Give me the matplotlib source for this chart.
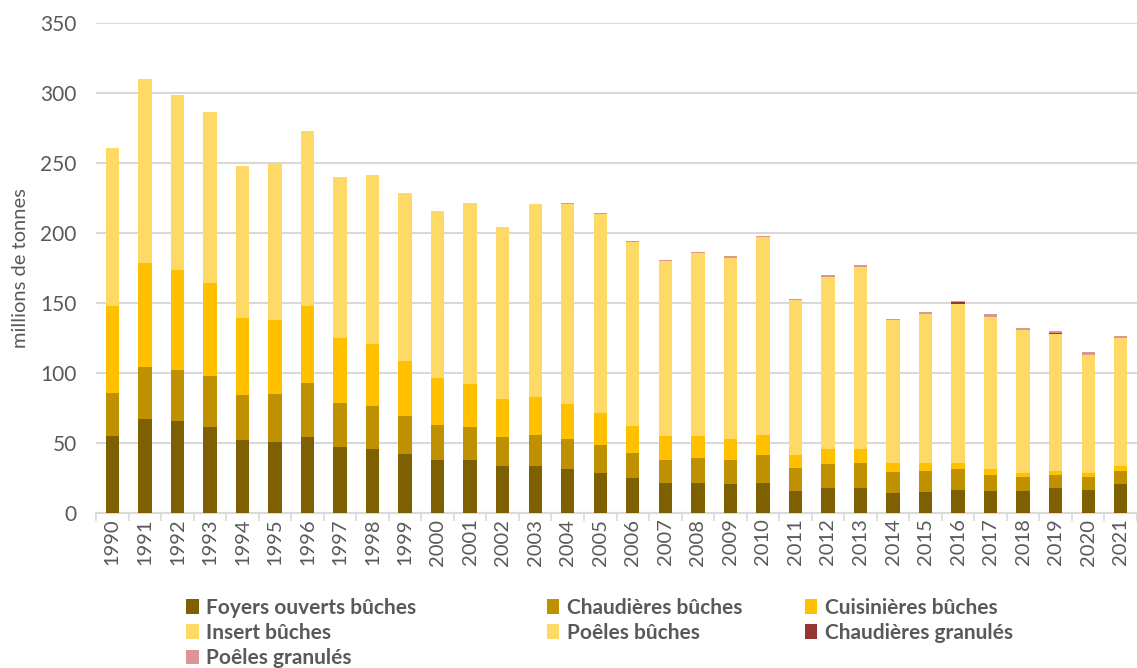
import numpy as np
import matplotlib
matplotlib.use("Agg")
import matplotlib.pyplot as plt
from matplotlib.patches import Patch

plt.rcParams['font.family'] = ['Lato', 'DejaVu Sans']

annees = [str(a) for a in range(1990, 2022)]

foyers = [55, 67, 65.5, 61.4, 52, 51, 54.3, 47.1, 45.7, 42.1, 38.1, 38.1, 33.6, 33.6, 31.7, 28.8,
          24.8, 21.4, 21.4, 20.7, 21.4, 16, 17.6, 17.6, 14.3, 15.2, 16.7, 16, 16, 17.6, 16.7, 20.7]
chaud_buches = [31, 37.5, 36.5, 36.6, 32.5, 34.2, 38.3, 31.7, 31, 27.2, 24.8, 23.3, 20.7, 22.1, 20.9, 19.8,
                18.1, 16.7, 17.7, 17.4, 20, 15.9, 17.6, 18.3, 15.2, 15, 14.5, 11.1, 9.5, 9.5, 8.8, 9.5]
cuisinieres = [62, 74.1, 71.6, 66, 55, 52.7, 55.4, 46.4, 43.8, 39, 33.5, 31, 27.1, 27.2, 25.5, 23.1,
               19.2, 16.9, 15.9, 14.5, 14.3, 9.8, 10.5, 9.8, 6.4, 5.7, 4.7, 4.1, 3.3, 3.1, 3.3, 3.4]
insert = [45, 52, 50, 49, 43, 45, 50, 46, 48, 48, 48, 52, 49, 55, 57, 57,
          53, 50, 52, 52, 57, 44, 49, 52, 41, 43, 45, 44, 41, 39, 34, 36]
poeles_buches = [68, 79.4, 75, 73.7, 65.1, 66.9, 75, 68.6, 72.7, 72, 71.3, 77, 74.1, 82.8, 85.6, 85,
                 78.4, 74.8, 78.4, 77.7, 84.3, 66.2, 74.1, 78.1, 60.7, 63.5, 68.5, 65, 60.6, 59, 50.1, 55.1]
chaud_granules = [0, 0, 0, 0, 0, 0, 0, 0, 0, 0, 0, 0, 0, 0, 0.02, 0.02,
                  0.02, 0.02, 0.02, 0.02, 0.02, 0.02, 0.02, 0.02, 0.02, 0.02, 1.2, 0.05, 0.05, 0.05, 0.05, 0.05]
poeles_granules = [0, 0, 0, 0, 0, 0, 0, 0, 0, 0, 0, 0, 0, 0, 0.6, 0.6,
                   0.8, 0.9, 1.0, 1.0, 1.1, 1.0, 1.2, 1.3, 1.0, 1.2, 0.6, 1.7, 1.7, 1.8, 1.9, 2.0]

series = [
    ("Foyers ouverts bûches", foyers, "#7F6000"),
    ("Chaudières bûches", chaud_buches, "#BF9000"),
    ("Cuisinières bûches", cuisinieres, "#FFC000"),
    ("Insert bûches", insert, "#FFD966"),
    ("Poêles bûches", poeles_buches, "#FFD966"),
    ("Chaudières granulés", chaud_granules, "#943634"),
    ("Poêles granulés", poeles_granules, "#DA9694"),
]

grey = "#595959"
fig = plt.figure(figsize=(11.37, 6.68), dpi=100)
ax = fig.add_axes([0.0845, 0.232, 0.9155, 0.7336])

x = np.arange(len(annees))
bottom = np.zeros(len(annees))
for nom, vals, col in series:
    vals = np.array(vals, dtype=float)
    ax.bar(x, vals, width=0.41, bottom=bottom, color=col, linewidth=0, zorder=3)
    bottom += vals

ax.set_ylim(0, 350)
ax.set_xlim(-0.5, len(annees) - 0.5)
ax.set_yticks(range(0, 351, 50))
ax.yaxis.grid(True, color="#D9D9D9", linewidth=1.5, zorder=0)
ax.tick_params(axis='y', length=0, labelsize=15, colors=grey, pad=14)
ax.set_xticks(x)
ax.set_xticklabels(annees, rotation=90, fontsize=14.5, color=grey)
ax.tick_params(axis='x', length=0, pad=4)
ax.set_xticks(np.arange(-0.5, len(annees), 1), minor=True)
ax.tick_params(axis='x', which='minor', length=6, color="#D9D9D9", width=1.2)
for s in ["top", "right", "left"]:
    ax.spines[s].set_visible(False)
ax.spines["bottom"].set_color("#D9D9D9")
ax.spines["bottom"].set_linewidth(1.5)
ax.set_ylabel("millions de tonnes", fontsize=14.5, color=grey, labelpad=8)

handles = [Patch(facecolor=c, edgecolor="none", label=n) for n, _, c in series]
cols = [[0, 3, 6], [1, 4], [2, 5]]
xpos = [0.164, 0.481, 0.708]
for idx, xp in zip(cols, xpos):
    leg = fig.legend(handles=[handles[i] for i in idx], loc="upper left", bbox_to_anchor=(xp, 0.105),
                     frameon=False, fontsize=15, handlelength=0.6, handleheight=0.7,
                     handletextpad=0.35, labelspacing=0.25, borderaxespad=0, borderpad=0)
    for t in leg.get_texts():
        t.set_color(grey)
        t.set_fontweight("bold")

fig.savefig("out.png", dpi=100)
